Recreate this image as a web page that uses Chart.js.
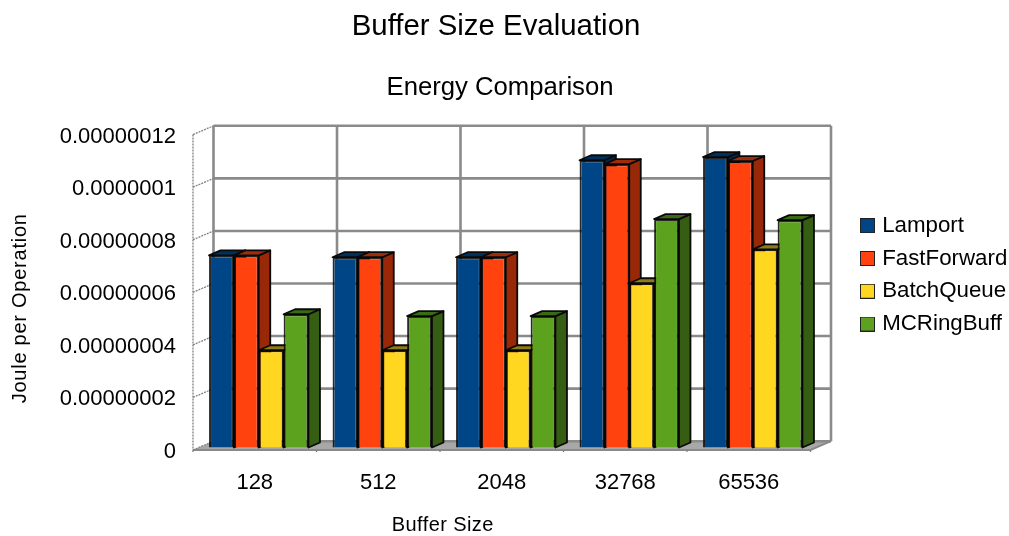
<!DOCTYPE html>
<html>
<head>
<meta charset="utf-8">
<style>
html,body{margin:0;padding:0;background:#fff;overflow:hidden}
canvas{display:block;filter:blur(0.5px)}
</style>
<script src="https://cdn.jsdelivr.net/npm/chart.js@4"></script>
</head>
<body>
<canvas id="c" width="1009" height="536"></canvas>
<script>
const categories = ['128','512','2048','32768','65536'];
const seriesNames = ['Lamport','FastForward','BatchQueue','MCRingBuff'];
const lamport     = [7.31e-8,7.24e-8,7.24e-8,10.93e-8,11.05e-8];
const fastForward = [7.31e-8,7.24e-8,7.24e-8,10.78e-8,10.90e-8];
const batchQueue  = [3.7e-8,3.7e-8,3.7e-8,6.25e-8,7.54e-8];
const mcRingBuff  = [5.07e-8,5.0e-8,5.0e-8,8.69e-8,8.65e-8];
const tickLabels = ['0','0.00000002','0.00000004','0.00000006','0.00000008','0.0000001','0.00000012'];
const colors     = ['#004586','#ff420e','#ffd720','#5ca21e'];
const sideColors = ['#002950','#992808','#99801a','#355e12'];
const topColors  = ['#00305c','#a02c0a','#8f7a14','#3a6a14'];
const FONT = '"Liberation Sans", Arial, sans-serif';
const values = [lamport, fastForward, batchQueue, mcRingBuff];
const BACK = {dx:20.5, dy:-8.8};  // back wall offset from the front plane
const BAR  = {dx:4, dy:-2.5};     // bar front plane offset
const DEPTH = {dx:11.5, dy:-5};   // bar depth
const GRID = '#8a8a8a';

function swatch(col){
  const cv=document.createElement('canvas');cv.width=15;cv.height=15;
  const g=cv.getContext('2d');g.fillStyle='#222';g.fillRect(0,0,15,15);
  g.fillStyle=col;g.fillRect(1,1,13,13);return cv;
}
const swatches = colors.map(swatch);

function shiftTitle(scale,dx,dy,spacing){
  if(scale._shifted) return;
  scale._shifted=true;
  const orig=scale.drawTitle.bind(scale);
  scale.drawTitle=function(){
    const s={l:scale.left,r:scale.right,t:scale.top,b:scale.bottom};
    const c=scale.ctx;const ls=c.letterSpacing;
    c.letterSpacing=spacing;
    scale.left+=dx;scale.right+=dx;scale.top+=dy;scale.bottom+=dy;
    orig();
    scale.left=s.l;scale.right=s.r;scale.top=s.t;scale.bottom=s.b;
    c.letterSpacing=ls;
  };
}

const scene = {
  id:'scene',
  afterLayout(chart){
    chart.boxes.forEach(b=>{
      if(b.options && b.options.text==='Buffer Size Evaluation'){b.left=0;b.right=992;}
      if(b.options && b.options.text==='Energy Comparison'){b.left=0;b.right=1000;}
      if(b===chart.legend){b.left=853.5;b.right=1009;b.top=204;b.bottom=360;}
    });
    shiftTitle(chart.scales.y,0,16,'0.75px');
    shiftTitle(chart.scales.x,-59,0,'0.4px');
  },
  beforeDatasetsDraw(chart){
    const {ctx,chartArea:a,scales:{x,y}}=chart;
    const pitch=x.getPixelForTick(1)-x.getPixelForTick(0);
    const xs=categories.map((_,i)=>x.getPixelForTick(i)-pitch/2);
    xs.push(a.right);
    ctx.save();
    ctx.fillStyle='#a8a8a8';
    ctx.beginPath();
    ctx.moveTo(a.left,a.bottom);ctx.lineTo(a.right,a.bottom);
    ctx.lineTo(a.right+BACK.dx,a.bottom+BACK.dy);ctx.lineTo(a.left+BACK.dx,a.bottom+BACK.dy);
    ctx.closePath();ctx.fill();
    ctx.strokeStyle=GRID;ctx.lineWidth=2.6;
    y.ticks.forEach(t=>{
      const p=y.getPixelForValue(t.value)+BACK.dy;
      ctx.beginPath();ctx.moveTo(a.left+BACK.dx,p);ctx.lineTo(a.right+BACK.dx,p);ctx.stroke();
    });
    xs.forEach(v=>{
      ctx.beginPath();ctx.moveTo(v+BACK.dx,a.top+BACK.dy);ctx.lineTo(v+BACK.dx,a.bottom+BACK.dy);ctx.stroke();
    });
    ctx.lineWidth=2;
    ctx.beginPath();ctx.moveTo(a.left,a.bottom);ctx.lineTo(a.right,a.bottom);
    ctx.lineTo(a.right+BACK.dx,a.bottom+BACK.dy);ctx.stroke();
    ctx.strokeStyle='#808080';ctx.lineWidth=1.3;ctx.setLineDash([2,1]);
    ctx.beginPath();ctx.moveTo(a.left,a.top);ctx.lineTo(a.left,a.bottom);ctx.stroke();
    y.ticks.forEach(t=>{
      const p=y.getPixelForValue(t.value);
      ctx.beginPath();ctx.moveTo(a.left,p);ctx.lineTo(a.left+BACK.dx,p+BACK.dy);ctx.stroke();
    });
    xs.forEach(v=>{
      ctx.beginPath();ctx.moveTo(v,a.bottom);ctx.lineTo(v,a.bottom+3);ctx.stroke();
    });
    ctx.setLineDash([]);
    ctx.translate(BAR.dx,BAR.dy);
    ctx.strokeStyle='#0a0a0a';ctx.lineWidth=1.8;ctx.lineJoin='round';
    categories.forEach((_,i)=>{
      values.forEach((_,d)=>{
        const el=chart.getDatasetMeta(d).data[i];
        const r=el.getProps(['x','y','base','width'],true);
        const x0=r.x-r.width/2,x1=r.x+r.width/2;
        ctx.fillStyle=sideColors[d];
        ctx.beginPath();ctx.moveTo(x1,r.y);ctx.lineTo(x1+DEPTH.dx,r.y+DEPTH.dy);
        ctx.lineTo(x1+DEPTH.dx,r.base+DEPTH.dy);ctx.lineTo(x1,r.base);ctx.closePath();ctx.fill();ctx.stroke();
        ctx.fillStyle=topColors[d];
        ctx.beginPath();ctx.moveTo(x0,r.y);ctx.lineTo(x0+DEPTH.dx,r.y+DEPTH.dy);
        ctx.lineTo(x1+DEPTH.dx,r.y+DEPTH.dy);ctx.lineTo(x1,r.y);ctx.closePath();ctx.fill();ctx.stroke();
      });
    });
    ctx.restore();
    ctx.save();
    ctx.translate(BAR.dx,BAR.dy);
  },
  afterDatasetsDraw(chart){ chart.ctx.restore(); }
};

new Chart(document.getElementById('c'),{
  type:'bar',
  data:{
    labels:categories,
    datasets:seriesNames.map((n,i)=>({
      label:n,data:values[i],backgroundColor:colors[i],
      borderColor:'rgba(5,5,5,0.85)',borderWidth:2,clip:false,
      categoryPercentage:0.805,barPercentage:1
    }))
  },
  options:{
    responsive:false,animation:false,
    layout:{autoPadding:false,padding:{left:0,right:198.5,top:0,bottom:0}},
    plugins:{
      title:{display:true,text:'Buffer Size Evaluation',color:'#000',
        font:{family:FONT,size:29.4,weight:'normal'},padding:{top:9,bottom:0}},
      subtitle:{display:true,text:'Energy Comparison',color:'#000',
        font:{family:FONT,size:25.7,weight:'normal'},padding:{top:28.4,bottom:31.1}},
      legend:{position:'chartArea',align:'start',
        labels:{color:'#000',font:{family:FONT,size:22.3},usePointStyle:true,pointStyleWidth:7,boxHeight:15,padding:10.5,
          generateLabels:()=>seriesNames.map((n,i)=>({text:n,pointStyle:swatches[i],fillStyle:colors[i],strokeStyle:'#222',lineWidth:1,datasetIndex:i,fontColor:'#000'}))}},
      tooltip:{enabled:false}
    },
    scales:{
      x:{grid:{display:false},border:{display:false},
        ticks:{color:'#000',font:{family:FONT,size:22},padding:12,maxRotation:0},
        title:{display:true,text:'Buffer Size',color:'#000',font:{family:FONT,size:20},padding:{top:0,bottom:-1}},
        afterFit(s){s.height=86;}},
      y:{min:0,max:12e-8,grid:{display:false},border:{display:false},
        ticks:{stepSize:2e-8,color:'#000',font:{family:FONT,size:22},padding:9,labelOffset:2,
          callback:(v,i)=>tickLabels[i]},
        title:{display:true,text:'Joule per Operation',color:'#000',font:{family:FONT,size:20},padding:{top:8,bottom:0}},
        afterFit(s){s.width=193;}}
    }
  },
  plugins:[scene]
});
</script>
</body>
</html>
